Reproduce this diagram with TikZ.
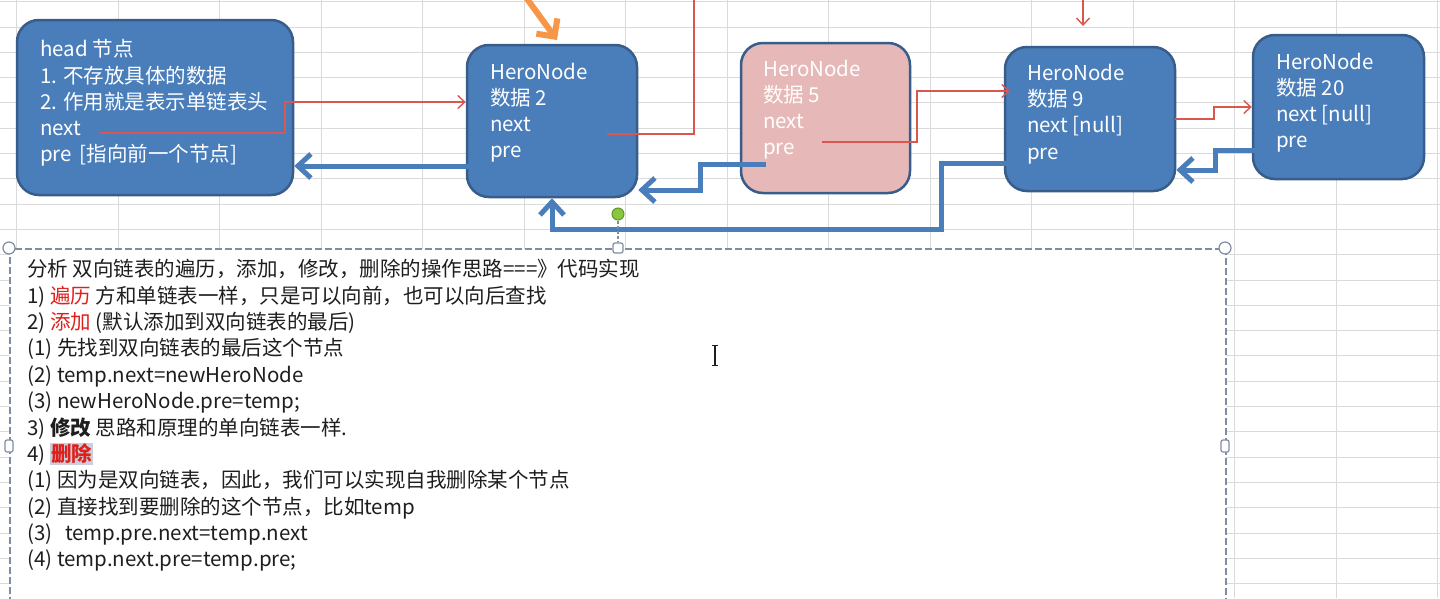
\documentclass[tikz,border=0pt]{standalone}
\usepackage{fontspec}
\setmainfont{Noto Sans CJK SC}
\usetikzlibrary{arrows.meta,calc}
\definecolor{nodeblue}{HTML}{4A7EBB}
\definecolor{nodeedge}{HTML}{385D8A}
\definecolor{pinkfill}{HTML}{E6B9B8}
\definecolor{redline}{HTML}{D9574E}
\definecolor{arrowblue}{HTML}{4A7EBB}
\definecolor{orangearrow}{HTML}{F79646}
\definecolor{gridgray}{HTML}{DADADA}
\definecolor{handlegray}{HTML}{7F8DA3}
\definecolor{txtred}{HTML}{E0201B}
\definecolor{hlcol}{HTML}{C9CFDC}
\definecolor{txtblack}{HTML}{1E1E1E}
\definecolor{greendot}{HTML}{8CC63F}
\definecolor{greenedge}{HTML}{5A9A2A}
\begin{document}
\begin{tikzpicture}[x=1pt,y=-1pt,
  listbox/.style={draw=nodeedge, line width=2.5pt, rounded corners=22pt, fill=nodeblue, inner sep=0pt},
  ntext/.style={text=white, font=\fontsize{20.5}{26.2}\selectfont, align=left, anchor=west, inner sep=0pt},
  nextseg/.style={draw=redline, line width=1.4pt},
  nextarrow/.style={nextseg, -{Straight Barb[length=7pt,width=13pt]}},
  prearrow/.style={draw=arrowblue, line width=5pt, -{Straight Barb[length=13pt,width=24pt]}},
  handlecirc/.style={circle, draw=handlegray, fill=white, line width=1.2pt, minimum size=12pt, inner sep=0pt},
  handlesq/.style={rectangle, rounded corners=2pt, draw=handlegray, fill=white, line width=1.2pt, inner sep=0pt},
]
\useasboundingbox (0,0) rectangle (1440,598);
\clip (0,0) rectangle (1440,598);
\fill[white] (0,0) rectangle (1440,598);
% spreadsheet grid
\foreach \k in {0,...,14} \draw[gridgray, line width=1pt] ({16.5+101.5*\k},0) -- ({16.5+101.5*\k},598);
\foreach \k in {0,...,23} \draw[gridgray, line width=1pt] (0,{1.7+25.3*\k}) -- (1440,{1.7+25.3*\k});

% list nodes
\node[listbox, minimum width=276pt, minimum height=175pt] (head) at (155,107.5) {};
\node[listbox, minimum width=170pt, minimum height=152pt] (n2) at (552,121) {};
\node[listbox, fill=pinkfill, minimum width=169pt, minimum height=150pt] (n5) at (825.5,118) {};
\node[listbox, minimum width=170pt, minimum height=144pt] (n9) at (1090,119) {};
\node[listbox, minimum width=171pt, minimum height=144pt] (n20) at (1338.5,107) {};

\node[ntext] (headtxt) at (40,103) {head 节点\\1. 不存放具体的数据\\2. 作用就是表示单链表头\\next\\pre \,[指向前一个节点]};
\node[ntext] (n2txt) at (490,112.5) {HeroNode\\数据 2\\next\\pre};
\node[ntext] (n5txt) at (763,109.5) {HeroNode\\数据 5\\next\\pre};
\node[ntext] (n9txt) at (1027,114) {HeroNode\\数据 9\\next [null]\\pre};
\node[ntext] (n20txt) at (1276,102.5) {HeroNode\\数据 20\\next [null]\\pre};

% connector helper coordinates
\coordinate (hnext) at (100,133);
\coordinate (k1a) at (285,133);
\coordinate (k1b) at (285,102);
\coordinate (n2next) at (607,134);
\coordinate (k2a) at (694,134);
\coordinate (k2b) at (694,-3);
\coordinate (n5next) at (822,142);
\coordinate (k3a) at (917,142);
\coordinate (k3b) at (917,91);
\coordinate (topA) at (1083,-3);
\coordinate (topB) at (1083,26);
\coordinate (n9next) at (1175,119);
\coordinate (k5a) at (1214,119);
\coordinate (k5b) at (1214,107);

\coordinate (n2pre) at (477,166);
\coordinate (n5pre) at (766,164);
\coordinate (k7a) at (700,164);
\coordinate (k7b) at (700,190);
\coordinate (n9pre) at (1028,163);
\coordinate (k8a) at (941,163);
\coordinate (k8b) at (941,229);
\coordinate (k8c) at (552,229);
\coordinate (n20pre) at (1258,150);
\coordinate (k9a) at (1215,150);
\coordinate (k9b) at (1215,170);

% next (red) connectors
\draw[nextarrow] (hnext) -- (k1a) -- (k1b) -- (n2.west |- k1b);
\draw[nextseg] (n2next) -- (k2a) -- (k2b);
\draw[nextarrow] (n5next) -- (k3a) -- (k3b) -- ($(n9.west |- k3b)+(6,0)$);
\draw[nextarrow] (topA) -- (topB);
\draw[nextarrow] (n9next) -- (k5a) -- (k5b) -- (n20.west |- k5b);

% pre (blue) connectors
\draw[prearrow] (n2pre) -- (head.east |- n2pre);
\draw[prearrow] (n5pre) -- (k7a) -- (k7b) -- (n2.east |- k7b);
\draw[prearrow] (n9pre) -- (k8a) -- (k8b) -- (k8c) -- (n2.south);
\draw[prearrow] (n20pre) -- (k9a) -- (k9b) -- (n9.east |- k9b);

% orange pointer
\coordinate (orA) at (525,-4);
\coordinate (orB) at (557,40);
\draw[orangearrow, line width=6pt, -{Straight Barb[length=13pt,width=26pt]}] (orA) -- (orB);

% text box
\node[draw=handlegray, dash pattern=on 7pt off 3pt, line width=1.8pt, fill=white, rectangle, inner sep=0pt, minimum width=1216pt, minimum height=380pt, anchor=north west] (tbox) at (9,248) {};
\node[circle, draw=greenedge, fill=greendot, line width=1pt, minimum size=12pt, inner sep=0pt] (rot) at (618,214) {};
\node[handlesq, minimum width=10pt, minimum height=10pt] (hTop) at (618,248) {};
\draw[handlegray, line width=1.2pt, dash pattern=on 3pt off 2pt] (rot) -- (hTop);
\node[handlecirc] (hTL) at (9,248) {};
\node[handlecirc] (hTR) at (1225,248) {};
\node[handlesq, minimum width=8pt, minimum height=12pt] (hL) at (9,446) {};
\node[handlesq, minimum width=8pt, minimum height=12pt] (hR) at (1225,446) {};

\node[text=txtblack, font=\fontsize{20.5}{26.36}\selectfont, align=left, anchor=west, inner sep=0pt] (notes) at (27,415.5) {%
分析 双向链表的遍历，添加，修改，删除的操作思路===》代码实现\\
1) \textcolor{txtred}{遍历} 方和单链表一样，只是可以向前，也可以向后查找\\
2) \textcolor{txtred}{添加} (默认添加到双向链表的最后)\\
(1) 先找到双向链表的最后这个节点\\
(2) temp.next=newHeroNode\\
(3) newHeroNode.pre=temp;\\
3) \textbf{修改} 思路和原理的单向链表一样.\\
4) {\setlength{\fboxsep}{1pt}\colorbox{hlcol}{\textcolor{txtred}{\textbf{删除}}}}\\
(1) 因为是双向链表，因此，我们可以实现自我删除某个节点\\
(2) 直接找到要删除的这个节点，比如temp\\
(3) \, temp.pre.next=temp.next\\
(4) temp.next.pre=temp.pre;};

% text cursor
\coordinate (curT) at (715,345);
\coordinate (curB) at (715,365);
\draw[txtblack, line width=1.2pt] (curT) -- (curB);
\draw[txtblack, line width=1pt] ($(curT)+(-3,0)$) -- ($(curT)+(3,0)$) ($(curB)+(-3,0)$) -- ($(curB)+(3,0)$);
\end{tikzpicture}
\end{document}
